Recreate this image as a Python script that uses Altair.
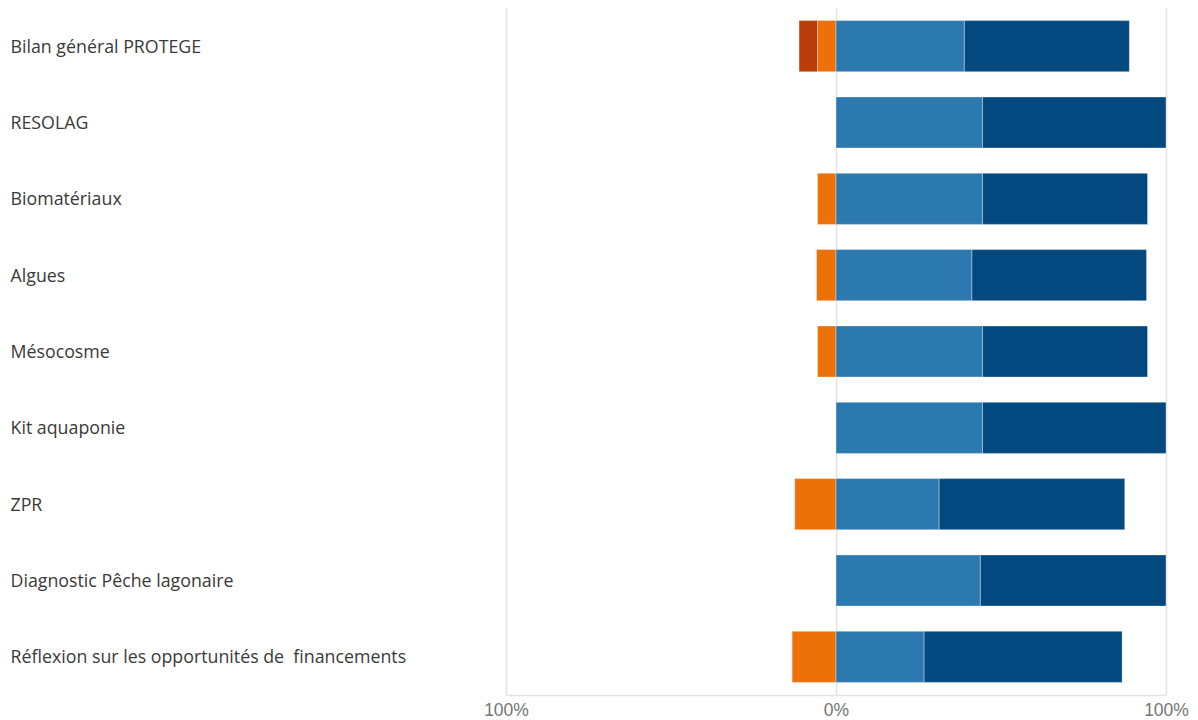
import altair as alt
import pandas as pd

categories = [
    "Bilan général PROTEGE",
    "RESOLAG",
    "Biomatériaux",
    "Algues",
    "Mésocosme",
    "Kit aquaponie",
    "ZPR",
    "Diagnostic Pêche lagonaire",
    "Réflexion sur les opportunités de\u00a0 financements",
]
# shares (percent) per answer level
strongly_disagree = [5.6, 0, 0, 0, 0, 0, 0, 0, 0]
disagree = [5.6, 0, 5.6, 5.9, 5.6, 0, 12.5, 0, 13.3]
agree = [38.9, 44.4, 44.4, 41.2, 44.4, 44.4, 31.25, 43.75, 26.7]
strongly_agree = [50.0, 55.6, 50.0, 52.9, 50.0, 55.6, 56.25, 56.25, 60.0]

levels = ["Pas du tout d'accord", "Pas d'accord", "D'accord", "Tout à fait d'accord"]
colors = ["#b83d08", "#ec7108", "#2c79b0", "#03497f"]

rows = []
for i, c in enumerate(categories):
    d = disagree[i] / 100
    sd = strongly_disagree[i] / 100
    a = agree[i] / 100
    sa = strongly_agree[i] / 100
    rows.append(dict(cat=c, level=levels[1], x=-d, x2=0.0))
    rows.append(dict(cat=c, level=levels[0], x=-d - sd, x2=-d))
    rows.append(dict(cat=c, level=levels[2], x=0.0, x2=a))
    rows.append(dict(cat=c, level=levels[3], x=a, x2=a + sa))
df = pd.DataFrame(rows)
df = df[df["x2"] - df["x"] > 0]

chart = alt.Chart(df).mark_bar(
    stroke="white", strokeWidth=1, strokeOpacity=0.35
).encode(
    y=alt.Y(
        "cat:N",
        sort=categories,
        title=None,
        scale=alt.Scale(paddingInner=0.33, paddingOuter=0.165),
        axis=alt.Axis(
            labelAlign="left",
            labelPadding=496,
            labelOffset=1.5,
            ticks=False,
            domain=False,
            grid=False,
            labelFont="Open Sans",
            labelFontSize=17.8,
            labelColor="#3a3a3a",
            labelLimit=480,
        ),
    ),
    x=alt.X(
        "x:Q",
        title=None,
        scale=alt.Scale(domain=[-1, 1], nice=False),
        axis=alt.Axis(
            values=[-1, 0, 1],
            labelExpr="format(abs(datum.value), '.0%')",
            grid=True,
            gridColor="#e3e3e3",
            gridWidth=1.5,
            domain=True,
            domainColor="#e3e3e3",
            domainWidth=1.5,
            ticks=False,
            labelPadding=6,
            labelFont="Liberation Sans",
            labelFontSize=17.5,
            labelColor="#757575",
            labelFlush=False,
        ),
    ),
    x2="x2:Q",
    color=alt.Color(
        "level:N",
        scale=alt.Scale(domain=levels, range=colors),
        legend=None,
    ),
).properties(
    width=660,
    height=687,
    padding={"left": 10, "top": 8, "right": 5, "bottom": 5},
).configure_view(stroke=None)

chart.save("out.html", embed_options={"renderer": "svg", "actions": False})
